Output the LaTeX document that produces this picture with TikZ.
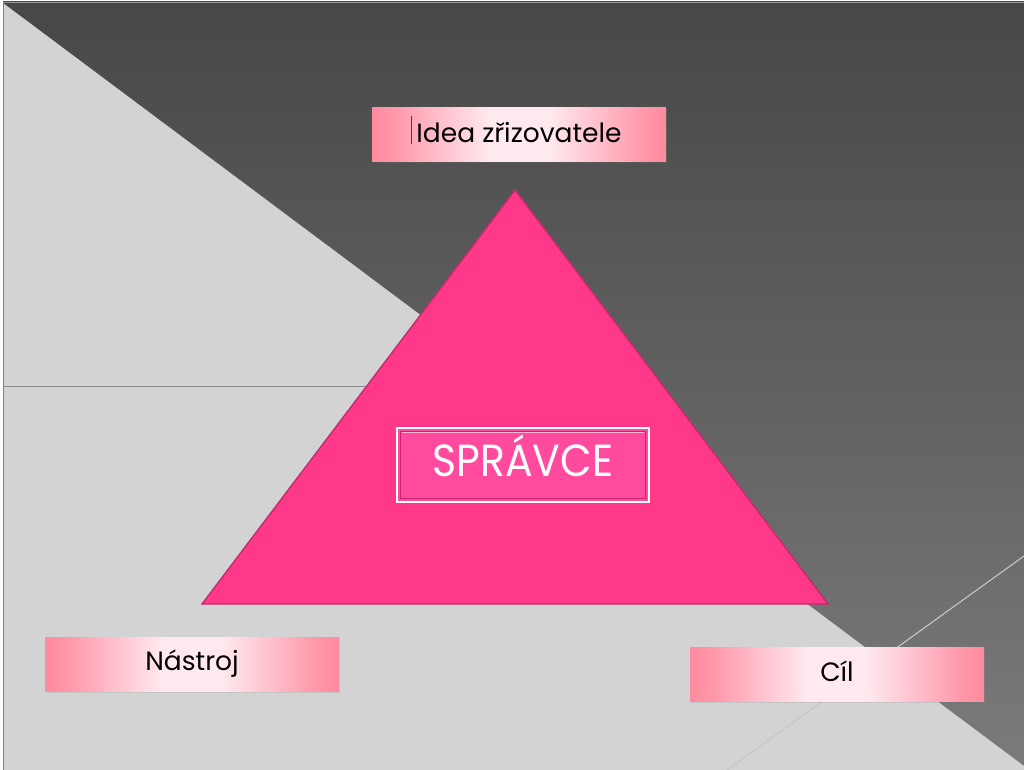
\documentclass[tikz,border=0pt]{standalone}
\usepackage{fontspec}
\setmainfont{Poppins}
\usetikzlibrary{shadows}
\definecolor{darktop}{HTML}{474747}
\definecolor{darkbot}{HTML}{7B7B7B}
\definecolor{lightbg}{HTML}{D3D3D3}
\definecolor{pinkedge}{HTML}{FF8A9E}
\definecolor{pinklt}{HTML}{FFC6D2}
\definecolor{pinkmid}{HTML}{FFE9EF}
\definecolor{tri}{HTML}{FF3889}
\definecolor{triborder}{HTML}{C42B6B}
\definecolor{boxpink}{HTML}{FF4A9D}
\definecolor{boxdark}{HTML}{C8236C}
\pgfdeclarehorizontalshading{labelshade}{100bp}{color(0bp)=(pinkedge); color(25bp)=(pinkedge); color(29bp)=(pinkedge!85!pinkmid); color(38bp)=(pinklt); color(45bp)=(pinkmid); color(55bp)=(pinkmid); color(62bp)=(pinklt); color(71bp)=(pinkedge!85!pinkmid); color(75bp)=(pinkedge); color(100bp)=(pinkedge)}
\begin{document}
\begin{tikzpicture}[x=1pt,y=-1pt,
  labelbox/.style={shading=labelshade,
    minimum width=294pt, minimum height=54pt, inner sep=0pt, text=black,
    font=\fontsize{26.5}{30}\selectfont,
    drop shadow={opacity=0.18, shadow xshift=1pt, shadow yshift=-1.5pt}},
  centerbox/.style={fill=boxpink, draw=white, line width=2.8pt, minimum width=252pt,
    minimum height=74pt, inner sep=0pt, text=white, font=\fontsize{45}{50}\selectfont},
  thinline/.style={line width=0.9pt}]
\useasboundingbox (0,0) rectangle (1024,770);
\fill[white] (0,0) rectangle (1024,770);
% dark gradient background
\shade[top color=darktop, bottom color=darkbot] (3,2) rectangle (1024,770);
% light diagonal region
\fill[lightbg] (3,3) -- (1024,766) -- (1024,770) -- (3,770) -- cycle;
% frame lines
\draw[thinline, draw=gray] (3,2) -- (3,770);
\draw[thinline, draw=gray!80] (3,2) -- (1024,2);
\draw[thinline, draw=gray!90] (3,386) -- (400,386);
% light line bottom right
\draw[line width=1.1pt, draw=gray!45] (1024,556) -- (727,770);
% triangle
\coordinate (apex) at (515,190);
\coordinate (bl) at (202,604);
\coordinate (br) at (828,604);
\draw[fill=tri, draw=triborder, line width=1.4pt, line join=miter] (apex) -- (br) -- (bl) -- cycle;
% central box
\node[centerbox] (spravce) at (523,465) {\raisebox{19pt}{\scalebox{0.91}[1]{SPRÁVCE}}};
\draw[boxdark, line width=1pt] ([shift={(5,5)}]spravce.north west) rectangle ([shift={(-5,-5)}]spravce.south east);
\draw[white!60!boxpink, line width=1.5pt] ([shift={(6,6)}]spravce.north west) -- ([shift={(-6,6)}]spravce.north east);
% labels
\node[labelbox] (idea) at (519,135) {\raisebox{5pt}{Idea zřizovatele}};
\node[labelbox] (nastroj) at (192,664) {\raisebox{5pt}{Nástroj}};
\node[labelbox] (cil) at (837,674) {\raisebox{5pt}{Cíl}};
% text caret
\draw[line width=1pt, draw=gray!50!black] ([shift={(-108,-19)}]idea.center) -- ([shift={(-108,9)}]idea.center);
\end{tikzpicture}
\end{document}
